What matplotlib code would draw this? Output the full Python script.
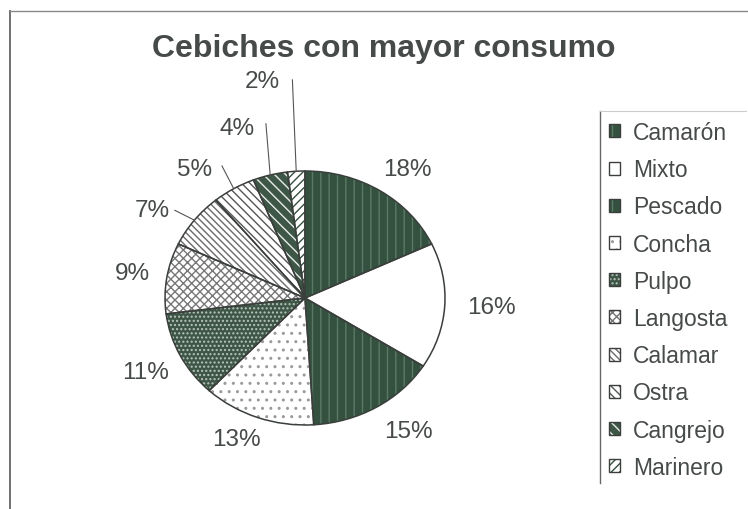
import numpy as np
import matplotlib
matplotlib.use("Agg")
import matplotlib.pyplot as plt
from matplotlib.patches import Patch
from matplotlib.lines import Line2D

plt.rcParams['font.family'] = ['Liberation Sans', 'DejaVu Sans']
plt.rcParams['hatch.linewidth'] = 1.0

# ---- data ----
categories = ["Camarón", "Mixto", "Pescado", "Concha", "Pulpo", "Langosta",
              "Calamar", "Ostra", "Cangrejo", "Marinero"]
values = [18, 16, 15, 13, 11, 9, 7, 5, 4, 2]
title = "Cebiches con mayor consumo"

# ---- style ----
dark = '#34503f'
faces = [dark, 'white', dark, 'white', '#3d5646', 'white', 'white', 'white', '#3d5646', 'white']
hatches = ['||', None, '||', '..', '....', 'xxxx', '\\\\\\\\\\', '\\\\\\\\', '\\\\\\', '////']
hatch_cols = ['#5a7a66', 'white', '#5a7a66', '#9a9a9a', '#b9c4bd', '#777777', '#6a6a6a',
              '#555555', '#e8ece9', '#34503f']
label_r = [1.25, 1.33, 1.28, 1.21, 1.28, 1.245, 1.29, 1.287, 1.425, 1.74]
label_shift = [-3.5, 0.6, 4.5, -4.0, 0, 0, 5.4, 7.3, 5.5, 6.6]
leader = {9: (93.0, 1.72), 8: (101.5, 1.40), 7: (119.7, 1.197), 6: (143.4, 1.158)}
text_col = '#464a48'

W, H = 748, 510
fig = plt.figure(figsize=(W / 100, H / 100), dpi=100)
cx, cy, rx, ry = 305, 299, 140, 127
ax = fig.add_axes([(cx - rx) / W, (H - cy - ry) / H, 2 * rx / W, 2 * ry / H])

wedges, _ = ax.pie(values, startangle=90, counterclock=False,
                   wedgeprops=dict(linewidth=0))
for w, fc, h, hc in zip(wedges, faces, hatches, hatch_cols):
    w.set_facecolor(fc)
    w.set_edgecolor(hc)
    if h:
        w.set_hatch(h)
outl, _ = ax.pie(values, startangle=90, counterclock=False,
                 wedgeprops=dict(facecolor='none', edgecolor='#3a3f3c', linewidth=1.1))
ax.set_aspect('auto')
ax.set_xlim(-1, 1)
ax.set_ylim(-1, 1)
ax.axis('off')

for i, w in enumerate(wedges):
    mid = np.deg2rad((w.theta1 + w.theta2) / 2 + label_shift[i])
    r = label_r[i]
    ax.text(r * np.cos(mid), r * np.sin(mid), f"{values[i]}%", ha='center', va='center',
            fontsize=17.5, color=text_col, clip_on=False)
    if i in leader:
        m0 = np.deg2rad((w.theta1 + w.theta2) / 2)
        a, rr = leader[i]
        a = np.deg2rad(a)
        ax.add_line(Line2D([np.cos(m0), rr * np.cos(a)], [np.sin(m0), rr * np.sin(a)],
                           color='#555555', lw=0.8, clip_on=False))

fig.text(384 / W, 1 - 49 / H, title, ha='center', va='center', fontsize=23,
         fontweight='bold', color=text_col)

# legend
handles = []
for fc, h, hc in zip(faces, hatches, hatch_cols):
    p = Patch(facecolor=fc, edgecolor=hc, hatch=h, linewidth=0)
    o = Patch(facecolor='none', edgecolor='#3a3f3c', linewidth=1.0)
    handles.append((p, o))
leg = fig.legend(handles, categories, loc='upper left',
                 bbox_to_anchor=(609 / W, 1 - 122 / H), frameon=False,
                 fontsize=16.5, handlelength=0.5, handleheight=0.5,
                 handletextpad=0.55, labelspacing=0.62, borderaxespad=0,
                 borderpad=0)
for t in leg.get_texts():
    t.set_color(text_col)

# frames
fig.add_artist(Line2D([600 / W, 600 / W], [1 - 112 / H, 1 - 484 / H], color='#666666', lw=1.0))
fig.add_artist(Line2D([600 / W, 746 / W], [1 - 112 / H, 1 - 112 / H], color='#cccccc', lw=0.8))
fig.add_artist(Line2D([10 / W, 10 / W], [1 - 12 / H, 0], color='#666666', lw=1.3))
fig.add_artist(Line2D([10 / W, 1], [1 - 12 / H, 1 - 12 / H], color='#888888', lw=1.0))

fig.savefig('out.png', dpi=100)
